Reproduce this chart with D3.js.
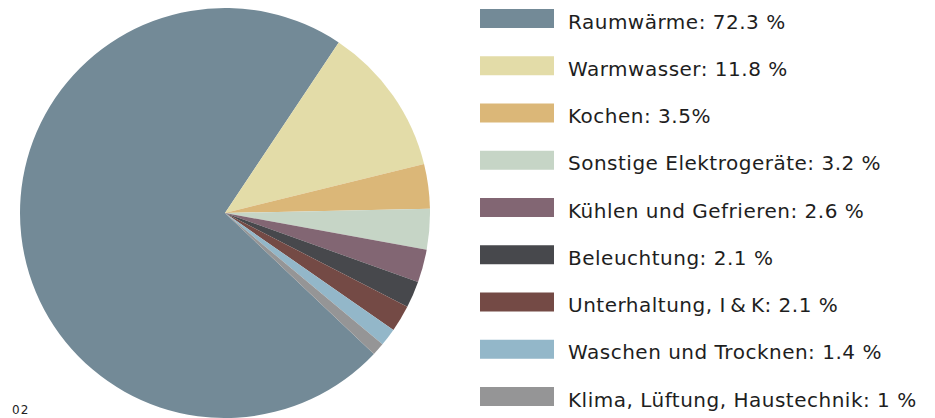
<!DOCTYPE html>
<html lang="de">
<head>
  <meta charset="utf-8">
  <title>Energieverbrauch Haushalte</title>
  <script src="https://d3js.org/d3.v7.min.js"></script>
  <style>
    body { margin: 0; background: #fff; }
    text { font-family: "DejaVu Sans", sans-serif; }
  </style>
</head>
<body>
<script>
  // Anteile am Endenergieverbrauch
  var categories = ["Raumwärme", "Warmwasser", "Kochen", "Sonstige Elektrogeräte",
    "Kühlen und Gefrieren", "Beleuchtung", "Unterhaltung, I & K",
    "Waschen und Trocknen", "Klima, Lüftung, Haustechnik"];
  var values = [72.3, 11.8, 3.5, 3.2, 2.6, 2.1, 2.1, 1.4, 1];
  var labels = ["Raumwärme: 72.3 %", "Warmwasser: 11.8 %", "Kochen: 3.5%",
    "Sonstige Elektrogeräte: 3.2 %", "Kühlen und Gefrieren: 2.6 %",
    "Beleuchtung: 2.1 %", "Unterhaltung, I\u2009&\u2009K: 2.1 %",
    "Waschen und Trocknen: 1.4 %", "Klima, Lüftung, Haustechnik: 1 %"];
  var colors = ["#738a97", "#e3dca8", "#dbb778", "#c6d5c6", "#826673",
    "#47484c", "#744a45", "#93b7c9", "#959596"];

  var width = 935, height = 418;
  var svg = d3.select("body").append("svg")
    .attr("width", width)
    .attr("height", height);

  var color = d3.scaleOrdinal().domain(categories).range(colors);

  // Raumwärme endet bei ca. 33.7° (im Uhrzeigersinn ab 12 Uhr)
  var endFirst = 33.7 * Math.PI / 180;
  var start = endFirst - 2 * Math.PI * values[0] / d3.sum(values);

  var pie = d3.pie()
    .sort(null)
    .value(function(d) { return d.value; })
    .startAngle(start)
    .endAngle(start + 2 * Math.PI);

  var data = categories.map(function(c, i) { return { name: c, value: values[i] }; });

  var arc = d3.arc().innerRadius(0).outerRadius(205);

  var g = svg.append("g").attr("transform", "translate(225,213)");
  g.selectAll("path")
    .data(pie(data))
    .enter().append("path")
    .attr("d", arc)
    .attr("fill", function(d) { return color(d.data.name); });

  // Legende
  var y = d3.scalePoint().domain(categories).range([9, 387]);

  var leg = svg.selectAll(".leg")
    .data(categories)
    .enter().append("g")
    .attr("class", "leg")
    .attr("transform", function(d) { return "translate(480," + y(d) + ")"; });

  leg.append("rect")
    .attr("width", 74)
    .attr("height", 19)
    .attr("fill", function(d) { return color(d); });

  leg.append("text")
    .attr("x", 88)
    .attr("y", 19.5)
    .attr("font-size", 20)
    .attr("letter-spacing", 0.5)
    .attr("fill", "#1e1e1e")
    .text(function(d, i) { return labels[i]; });

  svg.append("text")
    .attr("x", 12)
    .attr("y", 414)
    .attr("font-size", 12)
    .attr("letter-spacing", 1)
    .attr("fill", "#222")
    .text("02");
</script>
</body>
</html>
